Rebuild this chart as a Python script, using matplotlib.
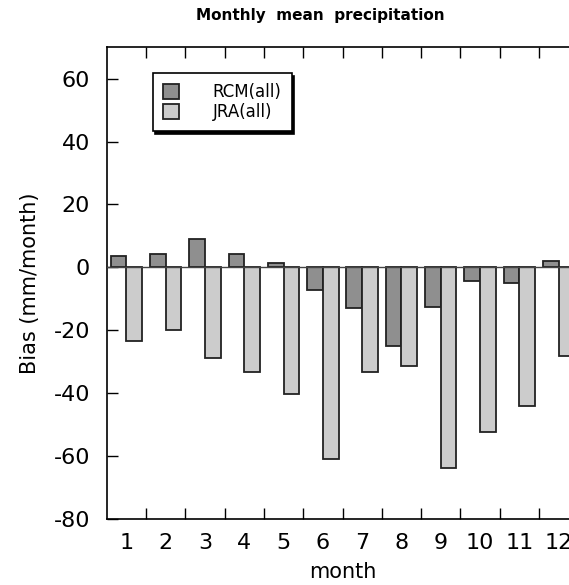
import numpy as np
import matplotlib
matplotlib.use('Agg')
import matplotlib.pyplot as plt

# Bias values (mm/month)
months = [1, 2, 3, 4, 5, 6, 7, 8, 9, 10, 11, 12]
rcm_bias = [3.7, 4.4, 9.1, 4.1, 1.3, -7.1, -12.9, -24.9, -12.5, -4.5, -5.1, 1.9]
jra_bias = [-23.4, -20.0, -28.7, -33.2, -40.3, -61.1, -33.2, -31.5, -64.0, -52.4, -44.0, -28.3]
y_ticks = [-80, -60, -40, -20, 0, 20, 40, 60]

plt.rcParams['font.family'] = ['DejaVu Sans']
plt.rcParams['axes.unicode_minus'] = False

fig = plt.figure(figsize=(5.69, 5.85), dpi=100)
# right edge runs past the figure, as in the original (month 12 is cut off)
ax = fig.add_axes([0.1875, 0.1133, 1.0164 - 0.1875, 0.919 - 0.1133])

x = np.array(months)
ax.bar(x - 0.2, rcm_bias, width=0.4, color='#8f8f8f', edgecolor='#222222',
       linewidth=1.3, label='RCM(all)', zorder=2)
ax.bar(x + 0.2, jra_bias, width=0.4, color='#cccccc', edgecolor='#222222',
       linewidth=1.3, label='JRA(all)', zorder=2)
ax.axhline(0, color='#444444', linewidth=1.0, zorder=3)

ax.set_xlim(0.5, 12.5)
ax.set_ylim(-80, 70)

# month labels without marks, marks sit between months
ax.set_xticks(months)
ax.set_xticklabels([str(m) for m in months])
ax.set_xticks(np.arange(1.5, 12.5, 1.0), minor=True)
ax.tick_params(axis='x', which='major', length=0, labelsize=16, pad=10)
ax.tick_params(axis='x', which='minor', length=8, width=1, direction='in',
               top=True, bottom=True)
ax.set_yticks(y_ticks)
ax.tick_params(axis='y', which='major', length=8, width=1, direction='in',
               labelsize=16, pad=12)

for side in ['left', 'top', 'bottom']:
    ax.spines[side].set_linewidth(1.2)
ax.spines['right'].set_visible(False)

ax.set_ylabel('Bias (mm/month)', fontsize=15, labelpad=10)
ax.set_xlabel('month', fontsize=15, labelpad=7)
fig.text(0.563, 0.974, 'Monthly  mean  precipitation', ha='center', va='center',
         fontsize=11, fontweight='bold')

leg = ax.legend(loc='upper left', bbox_to_anchor=(0.0975, 0.945), borderaxespad=0,
                fontsize=12, frameon=True, fancybox=False, handlelength=1.0,
                handleheight=1.0, handletextpad=2.0, labelspacing=0.12,
                borderpad=0.6, shadow={'color': 'black', 'alpha': 1.0})
leg.get_frame().set_edgecolor('black')
leg.get_frame().set_linewidth(1.2)
leg.get_frame().set_alpha(1.0)

plt.savefig('out.png', dpi=100)
plt.close()
